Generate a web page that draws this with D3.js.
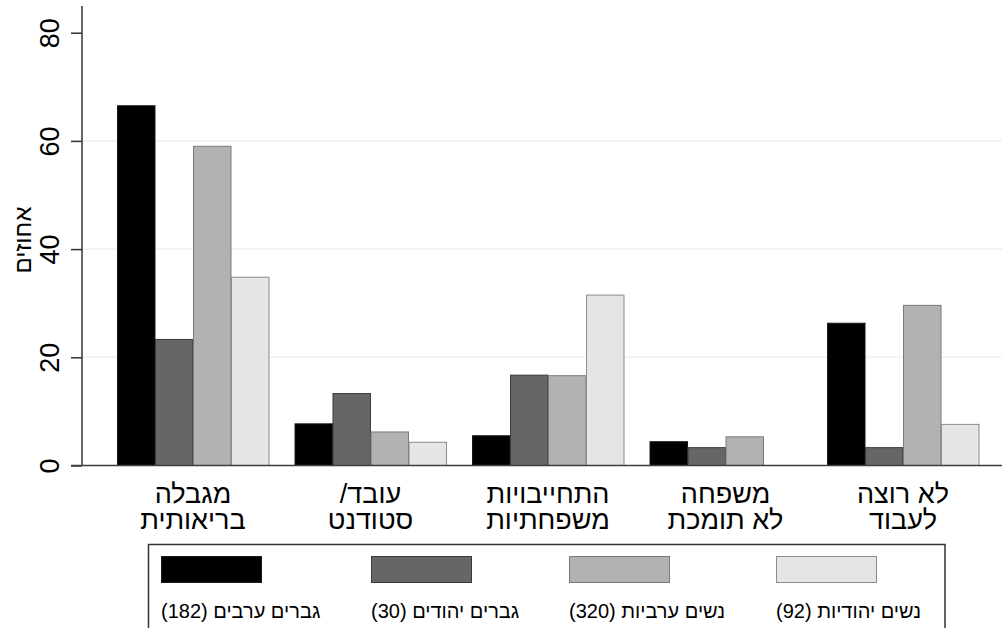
<!DOCTYPE html>
<html><head><meta charset="utf-8">
<script src="https://cdn.jsdelivr.net/npm/d3@7"></script>
<style>
html,body{margin:0;padding:0;background:#fff;}
svg{display:block;font-family:"Liberation Sans",Arial,"DejaVu Sans",sans-serif;}
</style></head>
<body>
<svg id="chart" width="1002" height="628"></svg>
<script>
const RLM = "\u200F";
const categories = [
  ["מגבלה", "בריאותית"],
  ["עובד/" + RLM, "סטודנט"],
  ["התחייבויות", "משפחתיות"],
  ["משפחה", "לא תומכת"],
  ["לא רוצה", "לעבוד"]
];
const seriesNames = ["גברים ערבים (182)", "גברים יהודים (30)", "נשים ערביות (320)", "נשים יהודיות (92)"];
const arabMen     = [66.5, 7.7, 5.5, 4.4, 26.3];
const jewishMen   = [23.3, 13.3, 16.7, 3.3, 3.3];
const arabWomen   = [59.0, 6.2, 16.6, 5.3, 29.6];
const jewishWomen = [34.8, 4.3, 31.5, 0, 7.6];
const yTicks = [0, 20, 40, 60, 80];
const gridTicks = [20, 40, 60];
const yTitle = "אחוזים";

const series = [arabMen, jewishMen, arabWomen, jewishWomen];
const fills = ["#000000", "#666666", "#b2b2b2", "#e5e5e5"];
const strokes = ["#1a1a1a", "#3a3a3a", "#7a7a7a", "#8c8c8c"];

const svg = d3.select("#chart");
const x0 = d3.scaleBand().domain(d3.range(categories.length))
  .range([104.25, 991.75]).paddingInner(0.1437).paddingOuter(0.0718);
const x1 = d3.scaleBand().domain(d3.range(series.length)).range([0, x0.bandwidth()]);
const y = d3.scaleLinear().domain([0, 80]).range([465.5, 32.7]);

// gridlines
svg.append("g").selectAll("line").data(gridTicks).join("line")
  .attr("x1", 83).attr("x2", 1002)
  .attr("y1", d => y(d)).attr("y2", d => y(d))
  .attr("stroke", "#eaf2f3").attr("stroke-width", 1.5);

// bars
const groups = svg.append("g").selectAll("g").data(categories).join("g")
  .attr("transform", (d, i) => `translate(${x0(i)},0)`);
groups.selectAll("rect")
  .data((d, i) => series.map((s, j) => ({j, v: s[i]})).filter(o => o.v > 0))
  .join("rect")
  .attr("x", o => x1(o.j) + 0.5)
  .attr("width", x1.bandwidth() - 0.5)
  .attr("y", o => y(o.v))
  .attr("height", o => y(0) - y(o.v))
  .attr("fill", o => fills[o.j])
  .attr("stroke", o => strokes[o.j])
  .attr("stroke-width", 1);

// y axis
const yAxis = d3.axisLeft(y).tickValues(yTicks).tickSize(11).tickPadding(8);
const ya = svg.append("g").attr("transform", "translate(82,0)").call(yAxis);
ya.select(".domain").remove();
ya.selectAll(".tick line").attr("stroke", "#333").attr("stroke-width", 1.5);
ya.selectAll(".tick text")
  .attr("font-size", 27).attr("fill", "#000")
  .attr("text-anchor", "middle")
  .attr("x", 0).attr("y", 0).attr("dy", "0.35em")
  .attr("transform", "translate(-32,0) rotate(-90)");
svg.append("line").attr("x1", 82).attr("x2", 82).attr("y1", 6).attr("y2", 466)
  .attr("stroke", "#333").attr("stroke-width", 1.5);

// x axis line
svg.append("line").attr("x1", 71).attr("x2", 1002).attr("y1", y(0)).attr("y2", y(0))
  .attr("stroke", "#3a3f40").attr("stroke-width", 1.5);

// category labels (two lines per category, RTL)
const xl = svg.append("g").selectAll("text").data(categories).join("text")
  .attr("font-size", 27).attr("fill", "#000")
  .attr("direction", "rtl").attr("text-anchor", "middle")
  .attr("transform", (d, i) => `translate(${x0(i) + x0.bandwidth() / 2},0)`);
xl.selectAll("tspan").data(d => d).join("tspan")
  .attr("x", 0).attr("y", (d, k) => 503 + k * 26).text(d => d);

// y title
svg.append("text").attr("font-size", 24).attr("fill", "#000")
  .attr("direction", "rtl").attr("text-anchor", "middle")
  .attr("transform", "translate(31,240) rotate(-90)")
  .text(yTitle);

// legend
svg.append("rect").attr("x", 148.5).attr("y", 544.5).attr("width", 796.5).attr("height", 100)
  .attr("fill", "#fff").attr("stroke", "#333").attr("stroke-width", 1.5);
const lx = [161, 371, 569, 776];
const lg = svg.append("g").selectAll("g").data(seriesNames).join("g")
  .attr("transform", (d, i) => `translate(${lx[i]},0)`);
lg.append("rect").attr("x", 0.5).attr("y", 556.5).attr("width", 100).attr("height", 26)
  .attr("fill", (d, i) => fills[i]).attr("stroke", (d, i) => strokes[i]);
lg.append("text").attr("x", 0).attr("y", 618).attr("font-size", 20).attr("fill", "#000")
  .attr("direction", "rtl").attr("text-anchor", "end").text(d => d);
</script>
</body></html>
